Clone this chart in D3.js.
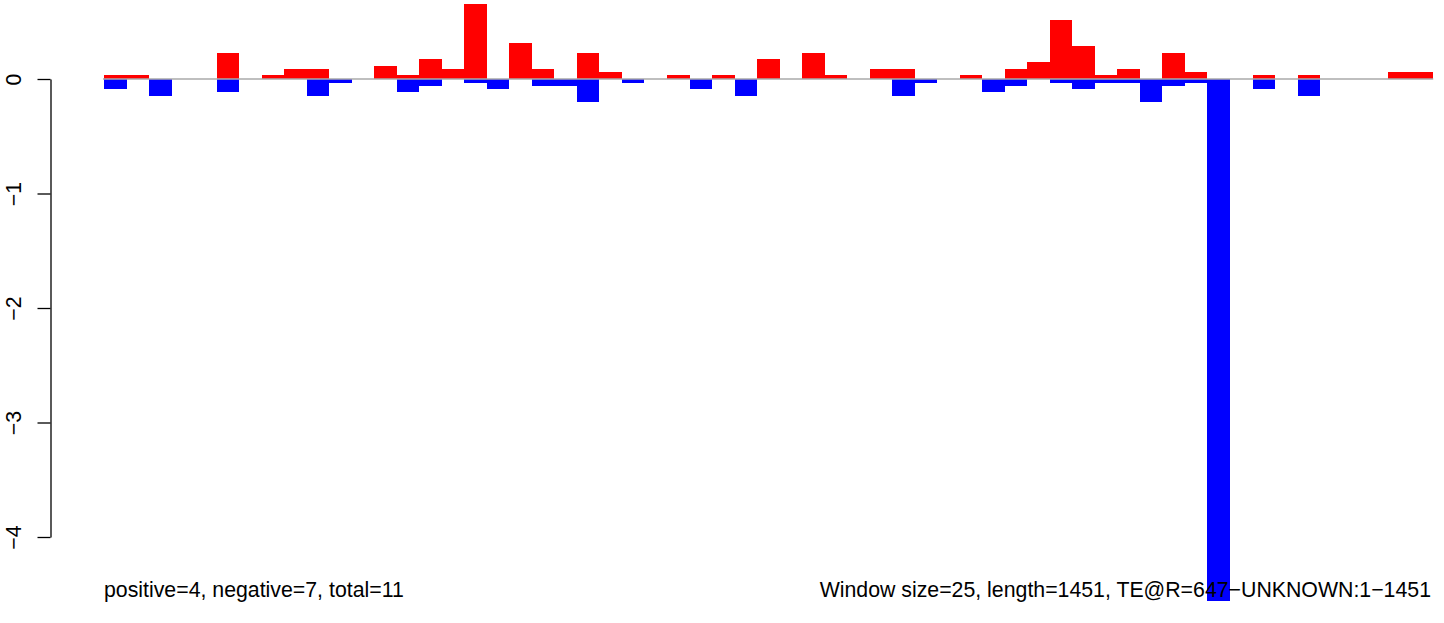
<!DOCTYPE html>
<html>
<head>
<meta charset="utf-8">
<script src="https://cdn.jsdelivr.net/npm/d3@7"></script>
<style>
  html, body { margin: 0; padding: 0; background: #fff; }
  svg { display: block; font-family: "Liberation Sans", Arial, Helvetica, sans-serif; }
</style>
</head>
<body>
<svg id="chart" width="1444" height="623"></svg>
<script>
// ---- data ----
const windows = d3.range(59); // window index (window size 25, length 1451)
const positiveValues = [
  0.032, 0.032, 0, 0, 0, 0.224, 0, 0.032, 0.084, 0.084,
  0, 0, 0.111, 0.032, 0.172, 0.084, 0.652, 0, 0.312, 0.084,
  0, 0.224, 0.058, 0, 0, 0.032, 0, 0.032, 0, 0.172,
  0, 0.224, 0.032, 0, 0.084, 0.084, 0, 0, 0.032, 0,
  0.084, 0.146, 0.512, 0.285, 0.032, 0.084, 0, 0.224, 0.058, 0,
  0, 0.032, 0, 0.032, 0, 0, 0, 0.058, 0.058
];
const negativeValues = [
  -0.087, 0, -0.148, 0, 0, -0.114, 0, 0, 0, -0.148,
  -0.035, 0, 0, -0.114, -0.061, 0, -0.035, -0.087, 0, -0.061,
  -0.061, -0.201, 0, -0.035, 0, 0, -0.087, 0, -0.148, 0,
  0, 0, 0, 0, 0, -0.148, -0.035, 0, 0, -0.114,
  -0.061, 0, -0.035, -0.087, -0.035, -0.035, -0.201, -0.061, -0.035, -4.56,
  0, -0.087, 0, -0.148, 0, 0, 0, 0, 0
];
const yTicks = [0, -1, -2, -3, -4];
const leftLabel = "positive=4, negative=7, total=11";
const rightLabel = "Window size=25, length=1451, TE@R=647\u2212UNKNOWN:1\u22121451";

// ---- layout ----
const FONT = "'Liberation Sans', Arial, Helvetica, sans-serif";
const svg = d3.select("#chart");
const x = d3.scaleBand().domain(windows).range([104, 1432.7]).paddingInner(0).paddingOuter(0);
const y = d3.scaleLinear().domain([-4, 0]).range([537, 79]);

// bars
svg.append("g").selectAll("rect")
  .data(windows.filter(i => positiveValues[i] > 0))
  .join("rect")
  .attr("x", i => x(i))
  .attr("width", x.bandwidth())
  .attr("y", i => y(positiveValues[i]))
  .attr("height", i => y(0) - y(positiveValues[i]))
  .attr("fill", "#FF0000")
  .attr("shape-rendering", "crispEdges");

svg.append("g").selectAll("rect")
  .data(windows.filter(i => negativeValues[i] < 0))
  .join("rect")
  .attr("x", i => x(i))
  .attr("width", x.bandwidth())
  .attr("y", y(0))
  .attr("height", i => y(negativeValues[i]) - y(0))
  .attr("fill", "#0000FF")
  .attr("shape-rendering", "crispEdges");

// zero line
svg.append("line")
  .attr("x1", x(0) - 1).attr("x2", x(58) + x.bandwidth() + 0.5)
  .attr("y1", y(0)).attr("y2", y(0))
  .attr("stroke", "#aaaaaa").attr("stroke-width", 1.4);

// y axis
const axis = d3.axisLeft(y).tickValues(yTicks).tickSize(13).tickSizeOuter(0)
  .tickFormat(d => d < 0 ? "\u2212" + Math.abs(d) : String(d));
const gAxis = svg.append("g").attr("transform", "translate(50.5,0)").call(axis);
gAxis.select(".domain").attr("stroke", "#000").attr("stroke-width", 1.3);
gAxis.selectAll(".tick line").attr("stroke", "#000").attr("stroke-width", 1.3);
gAxis.selectAll(".tick text")
  .attr("transform", "rotate(-90)")
  .attr("x", 0).attr("y", -30).attr("dy", 0)
  .attr("text-anchor", "middle")
  .attr("fill", "#000")
  .style("font-size", "21.3px")
  .style("font-family", FONT);

// bottom texts
svg.append("text").attr("x", 104).attr("y", 597)
  .style("font-size", "21.3px").style("font-family", FONT).attr("fill", "#000").text(leftLabel);
svg.append("text").attr("x", 1431).attr("y", 597).attr("text-anchor", "end")
  .style("font-size", "21.3px").style("font-family", FONT).attr("fill", "#000").text(rightLabel);
</script>
</body>
</html>
